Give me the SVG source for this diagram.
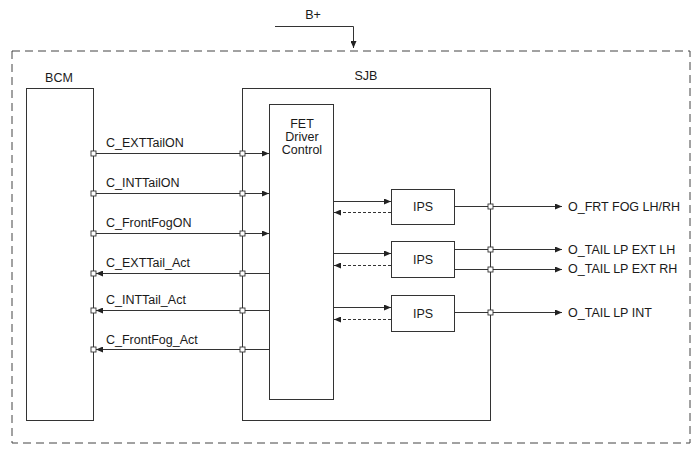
<svg xmlns="http://www.w3.org/2000/svg" width="700" height="453" viewBox="0 0 700 453">
<style>
text{font-family:"Liberation Sans",Arial,sans-serif;font-size:12.5px;fill:#1a1a1a}
.box{fill:#fff;stroke:#333;stroke-width:1}
.ln{stroke:#333;stroke-width:1;fill:none}
.dash{stroke:#333;stroke-width:1;fill:none;stroke-dasharray:3,2}
.sq{fill:#fff;stroke:#333;stroke-width:0.9}
</style>
<defs>
<marker id="ah" markerWidth="7" markerHeight="6" refX="7" refY="3" orient="auto" markerUnits="userSpaceOnUse">
<path d="M0,0 L7,3 L0,6 Z" fill="#222"/>
</marker>
</defs>
<rect id="outer" x="12" y="51" width="678" height="392" fill="none" stroke="#444" stroke-dasharray="8,5"/>
<g id="bplus"><text x="313" y="19" text-anchor="middle">B+</text></g>
<g id="bcm">
<text x="59" y="82" text-anchor="middle">BCM</text>
<rect class="box" x="26.5" y="88.5" width="67" height="332"/>
</g>
<g id="sjb">
<text x="366" y="80" text-anchor="middle">SJB</text>
<rect class="box" x="242.5" y="88.5" width="248" height="332"/>
</g>
<g id="fet">
<rect class="box" x="269.5" y="104.5" width="64" height="295"/>
<text x="302" y="128" text-anchor="middle">FET</text>
<text x="302" y="141" text-anchor="middle">Driver</text>
<text x="302" y="154" text-anchor="middle">Control</text>
</g>
<g id="ips1"><rect class="box" x="391.5" y="189.5" width="63" height="35"/><text x="423" y="211" text-anchor="middle">IPS</text></g>
<g id="ips2"><rect class="box" x="391.5" y="241.5" width="63" height="36"/><text x="423" y="264" text-anchor="middle">IPS</text></g>
<g id="ips3"><rect class="box" x="391.5" y="295.5" width="63" height="36"/><text x="423" y="318" text-anchor="middle">IPS</text></g>
<g id="connectors">
<path class="ln" d="M275,26.5 H353.5 V48" marker-end="url(#ah)"/>
<path class="ln" d="M93.5,153.5 H269" marker-end="url(#ah)"/>
<path class="ln" d="M93.5,193.5 H269" marker-end="url(#ah)"/>
<path class="ln" d="M93.5,233.5 H269" marker-end="url(#ah)"/>
<path class="ln" d="M269.5,273.5 H96" marker-end="url(#ah)"/>
<path class="ln" d="M269.5,310.5 H96" marker-end="url(#ah)"/>
<path class="ln" d="M269.5,349.5 H96" marker-end="url(#ah)"/>
<path class="ln" d="M333.5,201.5 H391" marker-end="url(#ah)"/>
<path class="dash" d="M391,212.5 H334" marker-end="url(#ah)"/>
<path class="ln" d="M333.5,253.5 H391" marker-end="url(#ah)"/>
<path class="dash" d="M391,265.5 H334" marker-end="url(#ah)"/>
<path class="ln" d="M333.5,307.5 H391" marker-end="url(#ah)"/>
<path class="dash" d="M391,319.5 H334" marker-end="url(#ah)"/>
<path class="ln" d="M454.5,206.5 H562" marker-end="url(#ah)"/>
<path class="ln" d="M454.5,249.5 H562" marker-end="url(#ah)"/>
<path class="ln" d="M454.5,269.5 H562" marker-end="url(#ah)"/>
<path class="ln" d="M454.5,312.5 H562" marker-end="url(#ah)"/>
<g class="sq">
<rect x="91" y="151" width="5" height="5"/><rect x="240" y="151" width="5" height="5"/>
<rect x="91" y="191" width="5" height="5"/><rect x="240" y="191" width="5" height="5"/>
<rect x="91" y="231" width="5" height="5"/><rect x="240" y="231" width="5" height="5"/>
<rect x="91" y="271" width="5" height="5"/><rect x="240" y="271" width="5" height="5"/>
<rect x="91" y="308" width="5" height="5"/><rect x="240" y="308" width="5" height="5"/>
<rect x="91" y="347" width="5" height="5"/><rect x="240" y="347" width="5" height="5"/>
<rect x="488" y="204" width="5" height="5"/>
<rect x="488" y="247" width="5" height="5"/>
<rect x="488" y="267" width="5" height="5"/>
<rect x="488" y="310" width="5" height="5"/>
</g>
</g>
<g id="labels">
<text x="106" y="147">C_EXTTailON</text>
<text x="106" y="187">C_INTTailON</text>
<text x="106" y="227">C_FrontFogON</text>
<text x="106" y="267">C_EXTTail_Act</text>
<text x="106" y="304">C_INTTail_Act</text>
<text x="106" y="344">C_FrontFog_Act</text>
<text x="568" y="211">O_FRT FOG LH/RH</text>
<text x="568" y="254">O_TAIL LP EXT LH</text>
<text x="568" y="273">O_TAIL LP EXT RH</text>
<text x="568" y="317">O_TAIL LP INT</text>
</g>
</svg>
